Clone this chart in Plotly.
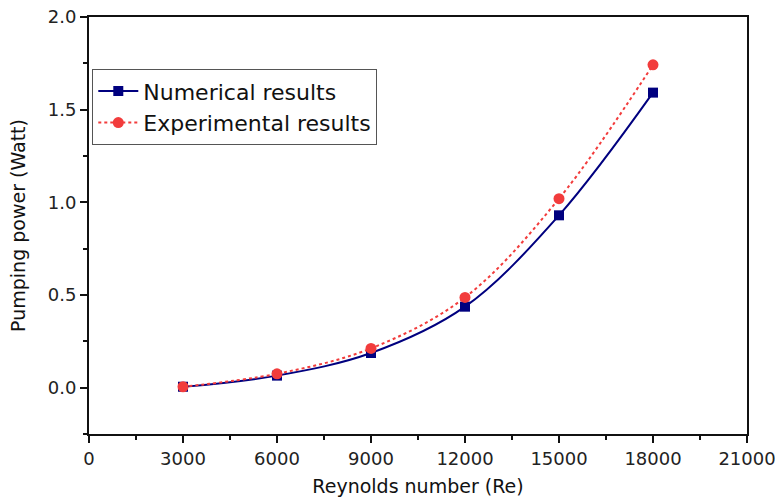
import plotly.graph_objects as go

reynolds = [3000, 6000, 9000, 12000, 15000, 18000]
numerical = [0.005, 0.065, 0.187, 0.437, 0.930, 1.592]
experimental = [0.005, 0.075, 0.212, 0.487, 1.020, 1.742]

x_ticks = [0, 3000, 6000, 9000, 12000, 15000, 18000, 21000]

FONT = "DejaVu Sans, Liberation Sans, Arial, sans-serif"

fig = go.Figure()
fig.add_trace(go.Scatter(
    x=reynolds, y=numerical, name="Numerical results",
    mode="lines+markers", line=dict(color="#00007f", width=2, shape="spline", smoothing=1.0),
    marker=dict(symbol="square", size=10, color="#00007f"),
))
fig.add_trace(go.Scatter(
    x=reynolds, y=experimental, name="Experimental results",
    mode="lines+markers", line=dict(color="#f23c3c", width=2, dash="dot", shape="spline", smoothing=1.0),
    marker=dict(symbol="circle", size=11, color="#f23c3c"),
))

axis_font = dict(family=FONT, size=18, color="#222")
title_font = dict(family=FONT, size=19, color="#111")

fig.update_layout(
    width=775, height=504,
    margin=dict(l=89, r=28, t=17, b=70),
    paper_bgcolor="white", plot_bgcolor="white",
    showlegend=True,
    legend=dict(
        x=0.005, y=0.875, xanchor="left", yanchor="top",
        bordercolor="#555", borderwidth=1, bgcolor="white",
        font=dict(family=FONT, size=22, color="#111"),
        tracegroupgap=0, itemwidth=40,
    ),
    xaxis=dict(
        range=[0, 21000], tickvals=x_ticks, ticktext=[str(v) for v in x_ticks],
        automargin=False, ticklabeloverflow="allow",
        showgrid=False, zeroline=False, showline=True, linecolor="#111", linewidth=2,
        mirror=True, ticks="outside", ticklen=7, tickwidth=2, tickcolor="#111",
        minor=dict(dtick=1500, tick0=0, ticks="outside", ticklen=4, tickwidth=2, tickcolor="#111"),
        tickfont=axis_font,
        title=dict(text="Reynolds number (Re)", font=title_font, standoff=12),
    ),
    yaxis=dict(
        range=[-0.25, 2.0], tick0=0, dtick=0.5, tickformat=".1f",
        automargin=False, ticklabeloverflow="allow",
        showgrid=False, zeroline=False, showline=True, linecolor="#111", linewidth=2,
        mirror=True, ticks="outside", ticklen=7, tickwidth=2, tickcolor="#111",
        minor=dict(dtick=0.25, tick0=0, ticks="outside", ticklen=4, tickwidth=2, tickcolor="#111"),
        tickfont=axis_font,
        title=dict(text="Pumping power (Watt)", font=title_font, standoff=17),
    ),
)

fig.write_html("out.html")
